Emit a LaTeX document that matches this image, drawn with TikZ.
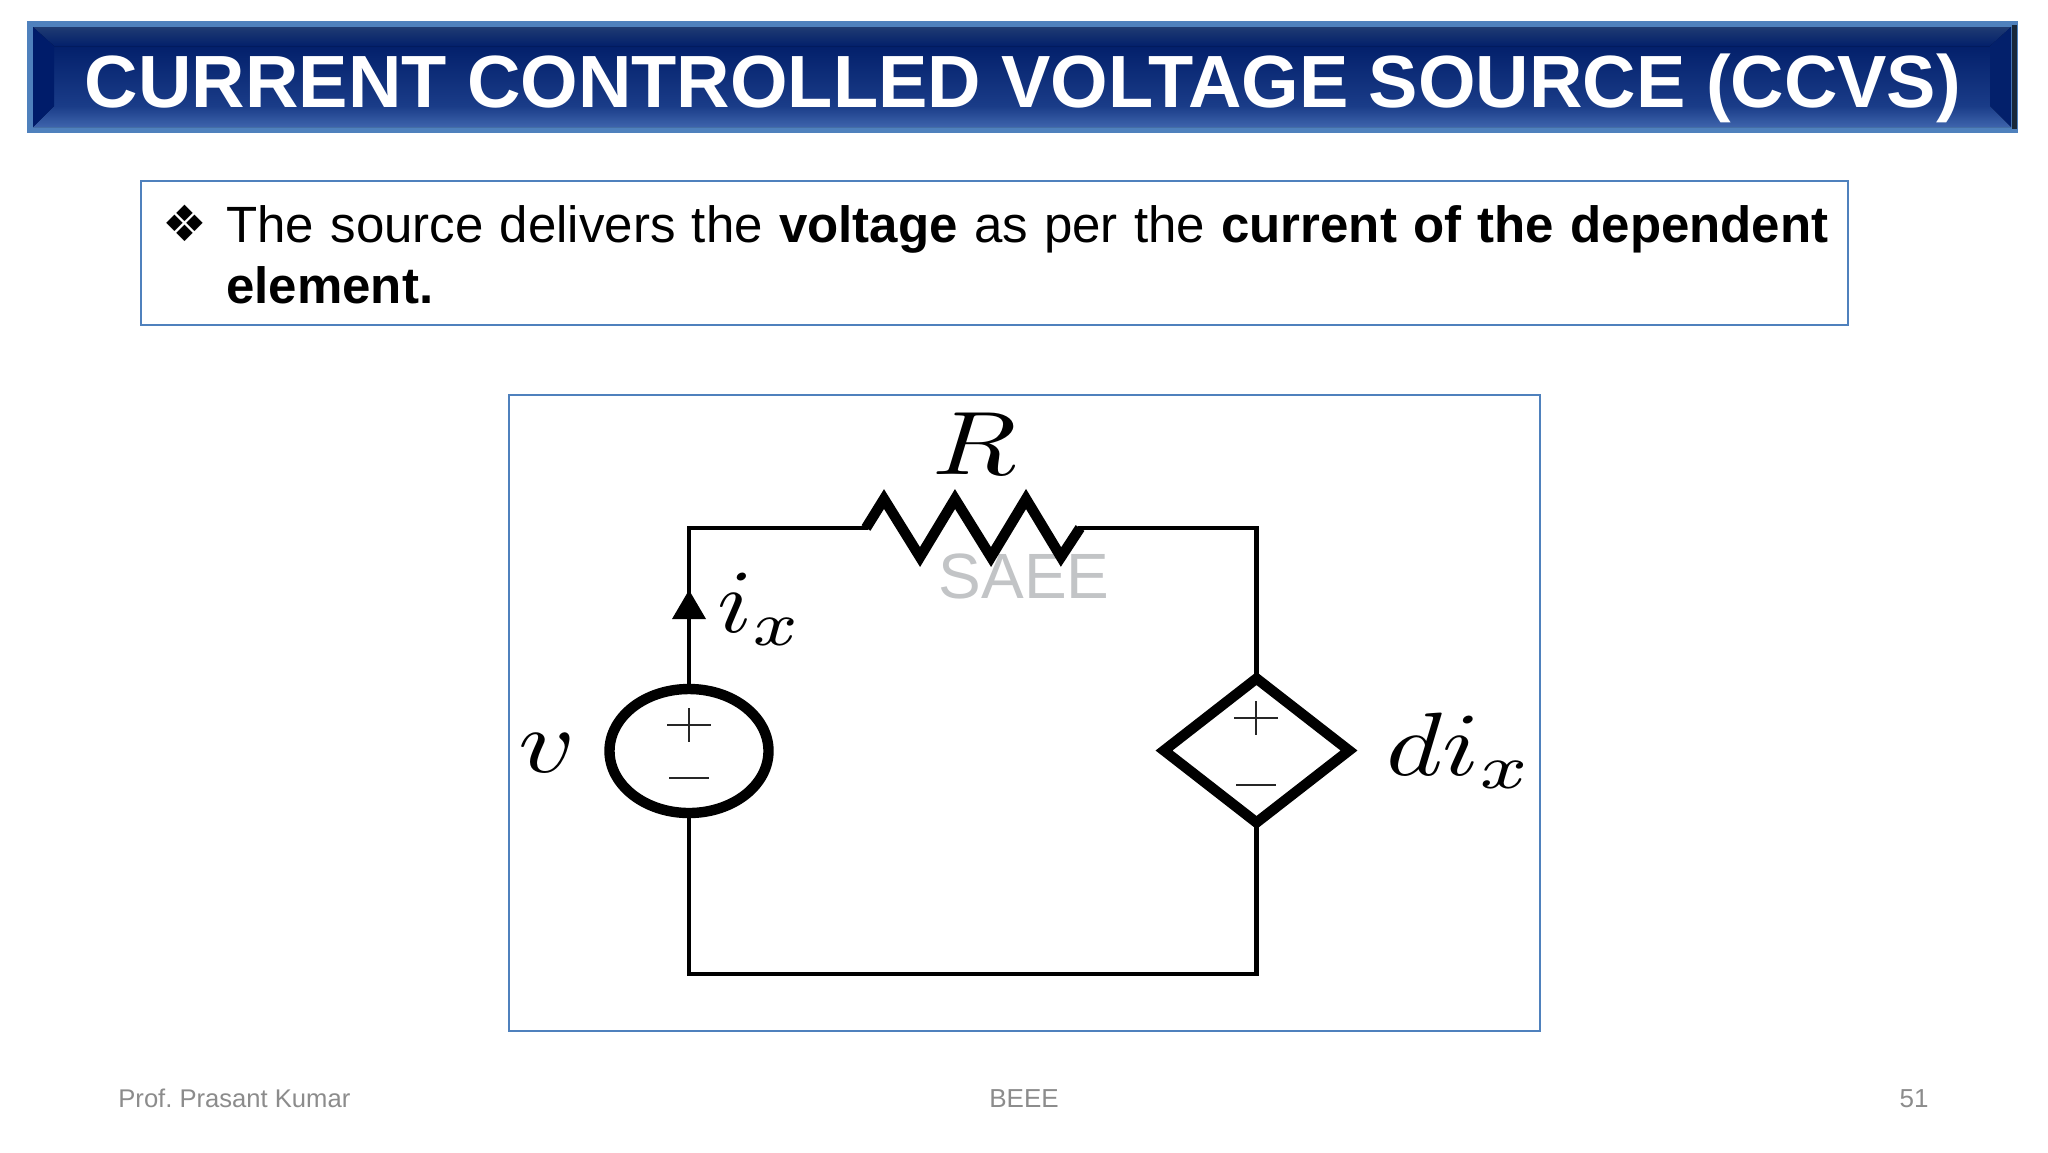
\documentclass[tikz,border=0pt]{standalone}
\usepackage{graphicx}
\usepackage{fontspec}
\setmainfont{Liberation Sans}
\newfontfamily\symfont{DejaVu Sans}
\usetikzlibrary{shapes.geometric}
\definecolor{boxblue}{HTML}{4F81BD}
\definecolor{navy}{HTML}{03206B}
\definecolor{navyb}{HTML}{1A3C88}
\definecolor{bevtop}{HTML}{1F3B72}
\definecolor{bevlowa}{HTML}{274C98}
\definecolor{bevlowb}{HTML}{3E64AC}
\definecolor{bevleft}{HTML}{001C6A}
\definecolor{footgrey}{HTML}{8C8C8C}
\definecolor{markgrey}{HTML}{C2C4C6}
\tikzset{
  px/.style={x=0.5pt,y=-0.5pt},
  framebox/.style={draw=boxblue,line width=1pt,fill=white},
  wire/.style={draw=black,line width=2.4pt},
  heavy/.style={draw=black,line width=5.2pt},
  sign/.style={draw=black!85,line width=0.9pt},
  footer/.style={text=footgrey,font=\fontsize{13}{15}\selectfont\frenchspacing,inner sep=0pt},
  mathlabel/.style={inner sep=0pt,text=black},
}
\newcommand{\bigmath}[1]{\scalebox{5.5}[4.5]{$#1$}}
\begin{document}
\begin{tikzpicture}[px]
\useasboundingbox (0,0) rectangle (2048,1152);
\fill[white] (0,0) rectangle (2048,1152);
% title band
\fill[boxblue] (27,21) rectangle (2018,133);
\fill[black!70!boxblue] (2012,25) rectangle (2017,129);
\fill[navy] (33,27) rectangle (2011,127);
\fill[top color=navy,bottom color=navyb] (54,46) rectangle (1990,106);
\fill[top color=bevtop,bottom color=navy] (33,27) -- (2011,27) -- (1990,46) -- (54,46) -- cycle;
\fill[top color=navyb,bottom color=bevlowb] (54,106) -- (1990,106) -- (2011,127) -- (33,127) -- cycle;
\fill[bevleft] (33,27) -- (54,46) -- (54,106) -- (33,127) -- cycle;
\fill[navy] (2011,27) -- (1990,46) -- (1990,106) -- (2011,127) -- cycle;
\node[text=white,inner sep=0pt,anchor=base,font=\fontsize{37}{40}\bfseries\selectfont] (title) at (1023,107) {CURRENT CONTROLLED VOLTAGE SOURCE (CCVS)};
% statement box
\node[framebox,minimum width=853.5pt,minimum height=72pt,inner sep=0pt,outer sep=0pt,anchor=north west] (stmt) at (140.5,181) {};
\node[inner sep=0pt,anchor=base,font=\fontsize{25}{28}\symfont\selectfont] (bul) at (185,241) {❖};
\node[inner sep=0pt,anchor=north west,text width=801pt,align=justify,font=\fontsize{25.5}{30.7}\selectfont] (stmttext) at (226,205) {The source delivers the \textbf{voltage} as per the \textbf{current of the dependent}\linebreak \textbf{element.}};
% circuit frame
\node[framebox,minimum width=515.5pt,minimum height=318pt,inner sep=0pt,outer sep=0pt,anchor=north west] (frame) at (509,394.5) {};
% watermark
\node[text=markgrey,inner sep=0pt,anchor=base,font=\fontsize{32}{34}\selectfont] (mark) at (1024,598) {SAEE};
% sources
\node[ellipse,heavy,minimum width=79.5pt,minimum height=62pt,inner sep=0pt,outer sep=0pt] (vs) at (689,751) {};
\node[diamond,heavy,minimum width=92.5pt,minimum height=72pt,inner sep=0pt,outer sep=0pt] (ds) at (1256.5,750.5) {};
% corners, resistor ends
\coordinate (tl) at (689,528);
\coordinate (tr) at (1256.5,528);
\coordinate (bl) at (689,974);
\coordinate (br) at (1256.5,974);
\coordinate (rl) at (866,528);
\coordinate (rr) at (1080,528);
% wires
\draw[wire,line join=miter,line cap=rect] (vs.north) -- (tl) -- (rl);
\draw[wire,line join=miter,line cap=rect] (rr) -- (tr) -- (ds.north);
\draw[wire,line join=miter,line cap=rect] (vs.south) -- (bl) -- (br) -- (ds.south);
% resistor
\draw[heavy,line join=miter,miter limit=10] (rl) -- (884,499) -- (920,557) -- (955,499) -- (991,557) -- (1026,499) -- (1061,557) -- (rr);
% current arrow
\fill[black] (689,590) -- (706,619) -- (672,619) -- cycle;
% signs
\draw[sign] (667,725) -- (711,725) (689,708) -- (689,742);
\draw[sign] (669,778) -- (709,778);
\draw[sign] (1234,718) -- (1278,718) (1256,701) -- (1256,735);
\draw[sign] (1236,785) -- (1276,785);
% labels
\node[mathlabel,anchor=base] (lr) at (975,474) {\bigmath{R}};
\node[mathlabel,anchor=base] (lv) at (547,772) {\bigmath{v}};
\node[mathlabel,anchor=base west] (li) at (717,632) {\scalebox{5.1}[4.5]{$i_x$}};
\node[mathlabel,anchor=base west] (ld) at (1386,775) {\scalebox{5.4}[4.5]{$di_x$}};
% footer
\node[footer,anchor=base west,font=\fontsize{12.8}{15}\selectfont\frenchspacing] (f1) at (118,1107) {Prof. Prasant Kumar};
\node[footer,anchor=base] (f2) at (1024,1107) {BEEE};
\node[footer,anchor=base east] (f3) at (1929,1107) {51};
\end{tikzpicture}
\end{document}
